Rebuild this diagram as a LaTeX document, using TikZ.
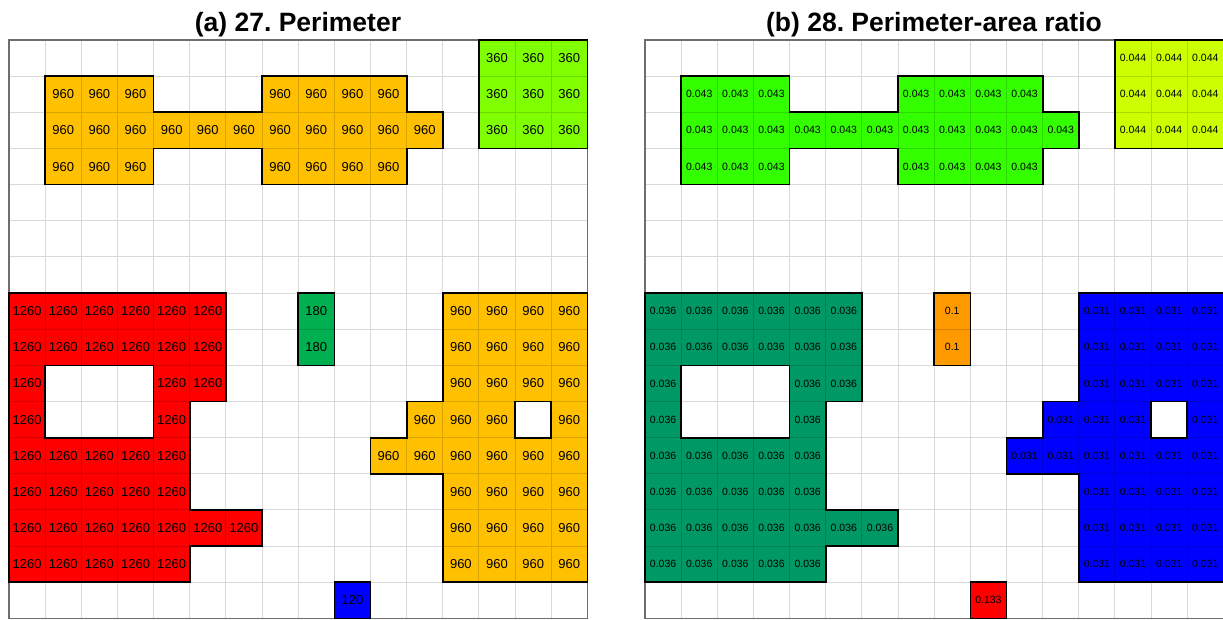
\documentclass[tikz,border=0pt]{standalone}
\usepackage{fontspec}
\setmainfont{Liberation Sans}
\frenchspacing
\definecolor{orgA}{RGB}{255,192,0}
\definecolor{lgrA}{RGB}{128,255,0}
\definecolor{redA}{RGB}{255,0,0}
\definecolor{grnA}{RGB}{0,176,80}
\definecolor{bluA}{RGB}{0,0,255}
\definecolor{grnB}{RGB}{51,255,0}
\definecolor{ylwB}{RGB}{204,255,0}
\definecolor{telB}{RGB}{0,153,102}
\definecolor{orgB}{RGB}{255,153,0}
\definecolor{frame}{RGB}{110,110,110}
\tikzset{
  gridline/.style={black,opacity=0.15,line width=1pt},
  panelframe/.style={frame,line width=1.4pt},
  outline/.style={black,line width=1.7pt,line join=miter},
  lblA/.style={inner sep=0pt,font=\fontsize{13}{13}\selectfont},
  lblB/.style={inner sep=0pt,font=\fontsize{10.5}{10.5}\selectfont},
  ttl/.style={inner sep=0pt,anchor=base,font=\bfseries\fontsize{26.5}{26.5}\selectfont}
}
% region geometry: row/{columns}
\def\rowsA{1/{1,2,3,7,8,9,10},2/{1,2,3,4,5,6,7,8,9,10,11},3/{1,2,3,7,8,9,10}}
\def\rowsB{0/{13,14,15},1/{13,14,15},2/{13,14,15}}
\def\rowsC{7/{0,1,2,3,4,5},8/{0,1,2,3,4,5},9/{0,4,5},10/{0,4},11/{0,1,2,3,4},12/{0,1,2,3,4},13/{0,1,2,3,4,5,6},14/{0,1,2,3,4}}
\def\rowsD{7/{8},8/{8}}
\def\rowsE{7/{12,13,14,15},8/{12,13,14,15},9/{12,13,14,15},10/{11,12,13,15},11/{10,11,12,13,14,15},12/{12,13,14,15},13/{12,13,14,15},14/{12,13,14,15}}
\def\rowsF{15/{9}}
% #1 colour, #2 text, #3 rows macro, #4 name prefix, #5 label style
\newcommand\regionfill[5]{%
  \foreach \r/\cs in #3 {\foreach \c in \cs {%
    \fill[#1] (\c,\r) rectangle ++(1,1);
    \node[#5] (#4-\c-\r) at (\c+0.5,\r+0.5) {#2};}}}
\newcommand\regionoutlines{%
  \draw[outline] (1,1) -- (4,1) -- (4,2) -- (7,2) -- (7,1) -- (11,1) -- (11,2) -- (12,2)
     -- (12,3) -- (11,3) -- (11,4) -- (7,4) -- (7,3) -- (4,3) -- (4,4) -- (1,4) -- cycle;
  \draw[outline] (13,0) rectangle (16,3);
  \draw[outline] (0,7) -- (6,7) -- (6,10) -- (5,10) -- (5,13) -- (7,13) -- (7,14) -- (5,14)
     -- (5,15) -- (0,15) -- cycle;
  \draw[outline] (1,9) rectangle (4,11);
  \draw[outline] (8,7) rectangle (9,9);
  \draw[outline] (12,7) -- (16,7) -- (16,15) -- (12,15) -- (12,12) -- (10,12) -- (10,11)
     -- (11,11) -- (11,10) -- (12,10) -- cycle;
  \draw[outline] (14,10) rectangle (15,11);
  \draw[outline] (9,15) rectangle (10,16);}
\newcommand\gridlines{%
  \draw[gridline] \foreach \i in {1,...,15} {(\i,0) -- (\i,16) (0,\i) -- (16,\i)};
  \draw[panelframe] (0,0) rectangle (16,16);}
\begin{document}
\begin{tikzpicture}[x=1pt,y=-1pt]
\useasboundingbox[fill=white] (0,0) rectangle (1223,619);
\node[ttl] (titleA) at (298,31) {(a) 27. Perimeter};
\node[ttl] (titleB) at (934,31) {(b) 28. Perimeter-area ratio};
\begin{scope}[shift={(9pt,-40pt)},x=36.15pt,y=-36.15pt]
  \regionfill{orgA}{960}{\rowsA}{a1}{lblA}
  \regionfill{lgrA}{360}{\rowsB}{a2}{lblA}
  \regionfill{redA}{1260}{\rowsC}{a3}{lblA}
  \regionfill{grnA}{180}{\rowsD}{a4}{lblA}
  \regionfill{orgA}{960}{\rowsE}{a5}{lblA}
  \regionfill{bluA}{120}{\rowsF}{a6}{lblA}
  \gridlines
  \regionoutlines
\end{scope}
\begin{scope}[shift={(645pt,-40pt)},x=36.15pt,y=-36.15pt]
  \regionfill{grnB}{0.043}{\rowsA}{b1}{lblB}
  \regionfill{ylwB}{0.044}{\rowsB}{b2}{lblB}
  \regionfill{telB}{0.036}{\rowsC}{b3}{lblB}
  \regionfill{orgB}{0.1}{\rowsD}{b4}{lblB}
  \regionfill{bluA}{0.031}{\rowsE}{b5}{lblB}
  \regionfill{redA}{0.133}{\rowsF}{b6}{lblB}
  \gridlines
  \regionoutlines
\end{scope}
\end{tikzpicture}
\end{document}
